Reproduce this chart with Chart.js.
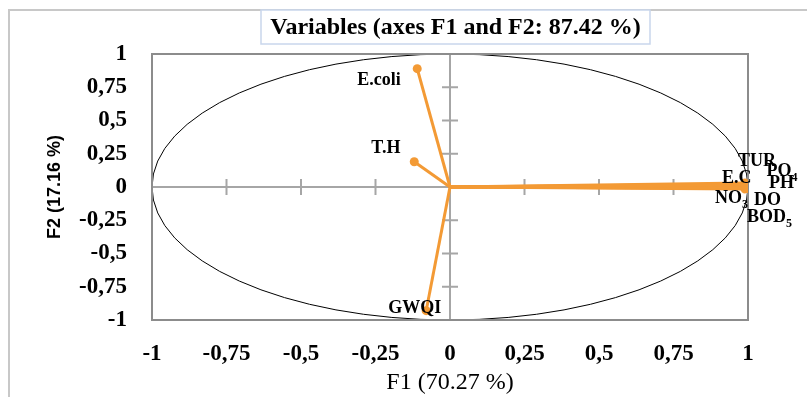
<!DOCTYPE html>
<html>
<head>
<meta charset="utf-8">
<script src="https://cdn.jsdelivr.net/npm/chart.js@4.4.1/dist/chart.umd.min.js"></script>
<style>
  html, body { margin: 0; padding: 0; background: #ffffff; }
  #wrap { width: 807px; height: 397px; }
</style>
</head>
<body>
<div id="wrap"><canvas id="c" width="807" height="397"></canvas></div>
<script>
// ---- data ----
const variables = ['E.coli', 'T.H', 'GWQI', 'TUR', 'PO_4', 'PH', 'E.C', 'NO_3', 'DO', 'BOD_5'];
const f1Loadings = [-0.11, -0.12, -0.08, 0.99, 0.995, 1.0, 0.99, 0.99, 0.995, 0.99];
const f2Loadings = [0.89, 0.19, -0.93, 0.02, 0.015, -0.01, 0.03, -0.005, -0.01, -0.015];
const xTickLabels = ['-1', '-0,75', '-0,5', '-0,25', '0', '0,25', '0,5', '0,75', '1'];
const yTickLabels = ['-1', '-0,75', '-0,5', '-0,25', '0', '0,25', '0,5', '0,75', '1'];
const chartTitle = 'Variables (axes F1 and F2: 87.42 %)';
const xTitle = 'F1 (70.27 %)';
const yTitle = 'F2 (17.16 %)';

// ---- label placement (style: pixel offsets from each point) ----
const labelOffsets = [
  [-60, 12], [-43, -13], [-38, -2], [-7, -23], [20, -13.5],
  [21, -5], [-23, -4.5], [-30, 11], [7.5, 12], [2, 28.5]
];

const ORANGE = '#F39A35';
const SERIF = "'Liberation Serif', 'Times New Roman', serif";
const SANS = "'Liberation Sans', Arial, sans-serif";

const datasets = variables.map((name, i) => ({
  label: name,
  data: [{ x: 0, y: 0 }, { x: f1Loadings[i], y: f2Loadings[i] }],
  showLine: true,
  borderColor: ORANGE,
  backgroundColor: ORANGE,
  borderWidth: 3,
  pointRadius: [0, 4.5],
  pointHoverRadius: [0, 4.5],
  pointBorderWidth: 0,
  tension: 0
}));

const decorPlugin = {
  id: 'decor',
  beforeDraw(chart) {
    const ctx = chart.ctx;
    ctx.save();
    ctx.strokeStyle = '#c8c8c8';
    ctx.lineWidth = 2;
    ctx.beginPath();
    ctx.moveTo(9, 397);
    ctx.lineTo(9, 10);
    ctx.lineTo(807, 10);
    ctx.stroke();
    ctx.restore();
  },
  beforeDatasetsDraw(chart) {
    const ctx = chart.ctx;
    const xs = chart.scales.x, ys = chart.scales.y;
    const a = chart.chartArea;
    const cx = xs.getPixelForValue(0), cy = ys.getPixelForValue(0);
    ctx.save();
    ctx.strokeStyle = '#000000';
    ctx.lineWidth = 1;
    ctx.beginPath();
    ctx.ellipse(cx, cy, xs.getPixelForValue(1) - cx, cy - ys.getPixelForValue(1), 0, 0, Math.PI * 2);
    ctx.stroke();
    ctx.strokeStyle = '#a6a6a6';
    ctx.lineWidth = 2;
    ctx.beginPath();
    ctx.moveTo(a.left, cy); ctx.lineTo(a.right, cy);
    ctx.moveTo(cx, a.top); ctx.lineTo(cx, a.bottom);
    xs.ticks.forEach(t => {
      if (t.value === 0) return;
      const px = xs.getPixelForValue(t.value);
      ctx.moveTo(px, cy - 8); ctx.lineTo(px, cy + 8);
    });
    ys.ticks.forEach(t => {
      if (t.value === 0) return;
      const py = ys.getPixelForValue(t.value);
      ctx.moveTo(cx - 8, py); ctx.lineTo(cx + 8, py);
    });
    ctx.stroke();
    ctx.strokeStyle = '#8c8c8c';
    ctx.lineWidth = 2;
    ctx.strokeRect(a.left, a.top, a.right - a.left, a.bottom - a.top);
    ctx.restore();
  },
  afterDatasetsDraw(chart) {
    const ctx = chart.ctx;
    const xs = chart.scales.x, ys = chart.scales.y;
    ctx.save();
    ctx.fillStyle = '#000000';
    ctx.textBaseline = 'middle';
    ctx.textAlign = 'left';
    variables.forEach((name, i) => {
      const px = xs.getPixelForValue(f1Loadings[i]) + labelOffsets[i][0];
      const py = ys.getPixelForValue(f2Loadings[i]) + labelOffsets[i][1];
      const parts = name.split('_');
      ctx.font = 'bold 18px ' + SERIF;
      ctx.fillText(parts[0], px, py);
      if (parts[1]) {
        const w = ctx.measureText(parts[0]).width;
        ctx.font = 'bold 12px ' + SERIF;
        ctx.fillText(parts[1], px + w, py + 6);
      }
    });
    const bx = 261, by = 10, bw = 389, bh = 34;
    ctx.fillStyle = '#ffffff';
    ctx.fillRect(bx, by, bw, bh);
    ctx.strokeStyle = '#c9d6ec';
    ctx.lineWidth = 1.5;
    ctx.strokeRect(bx, by, bw, bh);
    ctx.fillStyle = '#000000';
    ctx.textAlign = 'center';
    ctx.font = 'bold 24px ' + SERIF;
    ctx.fillText(chartTitle, bx + bw / 2, by + bh / 2 + 1);
    ctx.restore();
  }
};

new Chart(document.getElementById('c'), {
  type: 'scatter',
  data: { datasets },
  options: {
    responsive: false,
    animation: false,
    events: [],
    layout: { padding: { left: 0, top: 54, right: 59, bottom: 0 } },
    plugins: { legend: { display: false }, tooltip: { enabled: false }, title: { display: false } },
    scales: {
      x: {
        type: 'linear', min: -1, max: 1,
        afterFit(s) { s.height = 77; },
        grid: { display: false, drawTicks: false },
        border: { display: false },
        ticks: {
          stepSize: 0.25, padding: 20, color: '#000000', maxRotation: 0, autoSkip: false,
          font: { family: SERIF, size: 23, weight: 'bold' },
          callback: (v, i) => xTickLabels[i]
        },
        title: {
          display: true, text: xTitle, color: '#000000',
          font: { family: SERIF, size: 24, weight: 'normal' },
          padding: { top: 0, bottom: 0 }
        }
      },
      y: {
        type: 'linear', min: -1, max: 1,
        afterFit(s) { s.width = 152; },
        grid: { display: false, drawTicks: false },
        border: { display: false },
        ticks: {
          stepSize: 0.25, padding: 25, color: '#000000', autoSkip: false,
          font: { family: SERIF, size: 23, weight: 'bold' },
          callback: (v, i) => yTickLabels[i]
        },
        title: {
          display: true, text: yTitle, color: '#000000',
          font: { family: SANS, size: 18, weight: 'bold' },
          padding: { top: 44, bottom: 0 }
        }
      }
    }
  },
  plugins: [decorPlugin]
});
</script>
</body>
</html>
